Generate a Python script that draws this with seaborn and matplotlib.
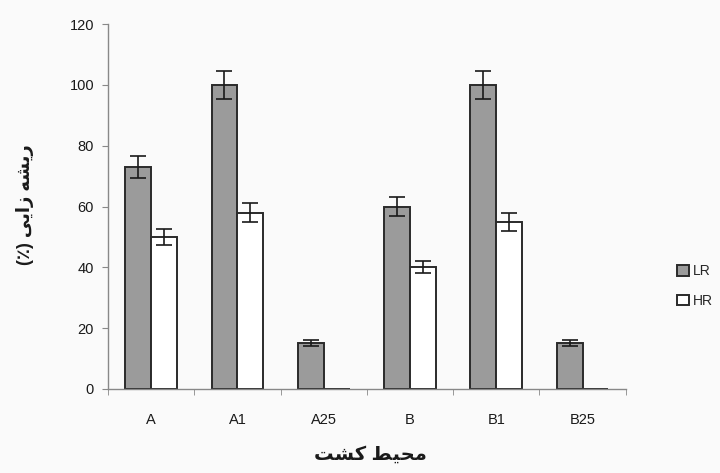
import numpy as np
import pandas as pd
import matplotlib
matplotlib.use('Agg')
import matplotlib.pyplot as plt
import seaborn as sns

# Valeurs
categories = ['A', 'A1', 'A25', 'B', 'B1', 'B25']
lr_values = [73, 100, 15, 60, 100, 15]
lr_errors = [3.5, 4.5, 1.0, 3.0, 4.5, 1.0]
hr_values = [50, 58, 0, 40, 55, 0]
hr_errors = [2.5, 3.0, 0, 2.0, 3.0, 0]
series = ['LR', 'HR']
yticks = [0, 20, 40, 60, 80, 100, 120]

# Persian labels (presentation forms, visual order)
xlabel = '\uFE96\uFEB8\uFB90 \uFEC2\uFBFF\uFEA4\uFEE3'
ylabel = '(\u066A) \uFBFD\uFBFE\uFE8D\uFEAF \uFEEA\uFEB8\uFBFE\uFEAD'

df = pd.DataFrame({
    'cat': categories * 2,
    'serie': ['LR'] * len(categories) + ['HR'] * len(categories),
    'val': lr_values + hr_values,
})
errs = {'LR': lr_errors, 'HR': hr_errors}

sns.set_style('white')
plt.rcParams['font.family'] = ['Liberation Sans', 'DejaVu Sans']

fig = plt.figure(figsize=(7.2, 4.73), dpi=100)
fig.patch.set_facecolor('#fafafa')
ax = fig.add_axes([0.15, 0.1776, 0.719, 0.7716])
ax.set_facecolor('#fafafa')

sns.barplot(data=df, x='cat', y='val', hue='serie', hue_order=series,
            palette={'LR': '#9b9b9b', 'HR': '#ffffff'}, width=0.6,
            edgecolor='#2a2a2a', linewidth=1.4, errorbar=None, ax=ax)

for cont, name in zip(ax.containers, series):
    xs = [p.get_x() + p.get_width() / 2 for p in cont.patches]
    hs = [p.get_height() for p in cont.patches]
    e = np.array(errs[name])
    m = e > 0
    ax.errorbar(np.array(xs)[m], np.array(hs)[m], yerr=e[m], fmt='none',
                ecolor='#1a1a1a', elinewidth=1.2, capsize=6, capthick=1.2)

ax.set_ylim(0, 120)
ax.set_xlim(-0.5, len(categories) - 0.5)
ax.set_yticks(yticks)
ax.set_xticks(np.arange(-0.5, len(categories), 1.0), minor=True)
ax.tick_params(axis='y', which='both', left=True, length=4, color='#888888',
               labelsize=10.5, labelcolor='#1a1a1a', pad=6)
ax.tick_params(axis='x', which='major', bottom=False, labelsize=10.5,
               labelcolor='#1a1a1a', pad=14)
ax.tick_params(axis='x', which='minor', bottom=True, length=4, color='#888888')

sns.despine(ax=ax)
for s in ['left', 'bottom']:
    ax.spines[s].set_color('#888888')
    ax.spines[s].set_linewidth(1.0)

ax.set_xlabel(xlabel, fontsize=14, fontweight='bold', color='#1a1a1a',
              va='center')
ax.xaxis.set_label_coords(0.506, -0.181)
ax.set_ylabel(ylabel, fontsize=13, fontweight='bold', color='#1a1a1a',
              va='center')
ax.yaxis.set_label_coords(-0.16, 0.504)

ax.legend(loc='center left', bbox_to_anchor=(1.1, 0.282), frameon=False,
          fontsize=10, handlelength=0.8, handleheight=0.8, handletextpad=0.3,
          labelspacing=1.1, borderaxespad=0, borderpad=0, title=None)

fig.savefig('out.png', dpi=100, facecolor=fig.get_facecolor())
